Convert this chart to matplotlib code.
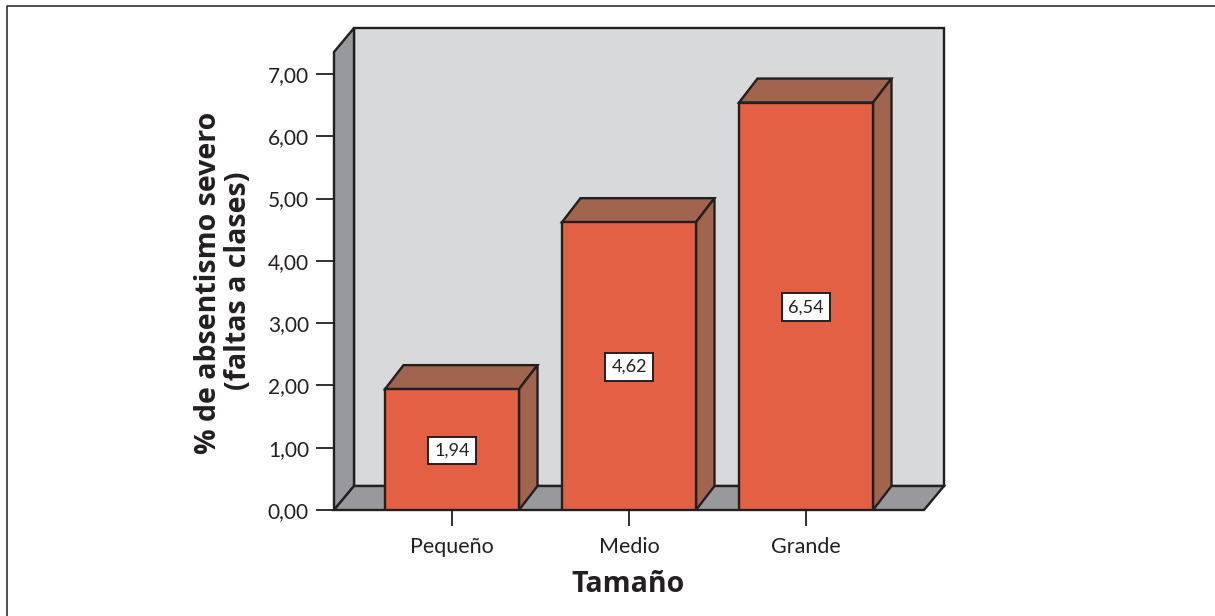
import matplotlib
matplotlib.use('Agg')
import matplotlib.pyplot as plt
from matplotlib.patches import Polygon

categorias = ['Pequeño', 'Medio', 'Grande']
valores = [1.94, 4.62, 6.54]
etiquetas = ['1,94', '4,62', '6,54']
ticks_y = [0, 1, 2, 3, 4, 5, 6, 7]
ticks_y_txt = ['0,00', '1,00', '2,00', '3,00', '4,00', '5,00', '6,00', '7,00']

plt.rcParams['font.family'] = ['Lato', 'DejaVu Sans']

NEGRO = '#231f20'
PARED = '#d8d9db'
GRIS = '#98999c'
NARANJA = '#e46045'
MARRON = '#a1654f'

W, H = 1215, 616
fig = plt.figure(figsize=(W / 100, H / 100), dpi=100)
ax = fig.add_axes([334 / W, 1 - 510 / H, 590 / W, 458 / H])

# escala: 177 px entre categorias, 62.3 px por unidad
ax.set_xlim(-118 / 177, 2 + 118 / 177)
ax.set_ylim(0, 458 / 62.3)
x0, x1 = ax.get_xlim()
y1 = ax.get_ylim()[1]
dx = 20 / 177      # profundidad de la pared
dy = 24 / 62.3
dxb = 18.5 / 177   # profundidad de las barras
ancho = 134 / 177

borde = dict(edgecolor=NEGRO, linewidth=1.7, joinstyle='miter', clip_on=False)

# paredes y suelo
ax.add_patch(Polygon([(x0 + dx, dy), (x1 + dx, dy), (x1 + dx, y1 + dy), (x0 + dx, y1 + dy)],
                     facecolor=PARED, zorder=1, **borde))
ax.add_patch(Polygon([(x0, 0), (x0 + dx, dy), (x0 + dx, y1 + dy), (x0, y1)],
                     facecolor=GRIS, zorder=2, **borde))
ax.add_patch(Polygon([(x0, 0), (x1, 0), (x1 + dx, dy), (x0 + dx, dy)],
                     facecolor=GRIS, zorder=2, **borde))

# barras
pos = list(range(len(categorias)))
ax.bar(pos, valores, width=ancho, facecolor=NARANJA, edgecolor=NEGRO, linewidth=1.7, zorder=4)
for p, v, e in zip(pos, valores, etiquetas):
    iz, de = p - ancho / 2, p + ancho / 2
    ax.add_patch(Polygon([(iz, v), (de, v), (de + dxb, v + dy), (iz + dxb, v + dy)],
                         facecolor=MARRON, zorder=3, **borde))
    ax.add_patch(Polygon([(de, 0), (de + dxb, dy), (de + dxb, v + dy), (de, v)],
                         facecolor=MARRON, zorder=3, **borde))
    ax.text(p, v / 2 - 0.015, e, ha='center', va='center', fontsize=13, color=NEGRO, zorder=5,
            bbox=dict(boxstyle='square,pad=0.32', facecolor='white', edgecolor=NEGRO, linewidth=1.4))

for s in ax.spines.values():
    s.set_visible(False)
ax.patch.set_visible(False)

ax.set_xticks(pos)
ax.set_xticklabels(categorias, fontsize=15.5, color=NEGRO)
ax.set_yticks(ticks_y)
ax.set_yticklabels(ticks_y_txt, fontsize=15, color=NEGRO)
ax.tick_params(axis='x', length=11.5, width=1.3, color=NEGRO, pad=8)
ax.tick_params(axis='y', length=13, width=1.3, color=NEGRO, pad=5)

fig.text(208 / W, 1 - 283 / H, '% de absentismo severo', rotation=90, ha='center', va='center',
         family='Open Sans', fontsize=20.5, fontweight='bold', color=NEGRO)
fig.text(239 / W, 1 - 281 / H, '(faltas a clases)', rotation=90, ha='center', va='center',
         family='Open Sans', fontsize=20.5, fontweight='bold', color=NEGRO)
fig.text(628 / W, 1 - 585 / H, 'Tamaño', ha='center', va='center', family='Open Sans',
         fontsize=20.5, fontweight='bold', color=NEGRO)

# marco de la figura, abierto por la derecha y por abajo
fig.add_artist(plt.Line2D([7 / W, 7 / W, 1], [0, 1 - 5.5 / H, 1 - 5.5 / H],
                          color=NEGRO, linewidth=1.1))

fig.savefig('out.png', dpi=100, facecolor='white')
